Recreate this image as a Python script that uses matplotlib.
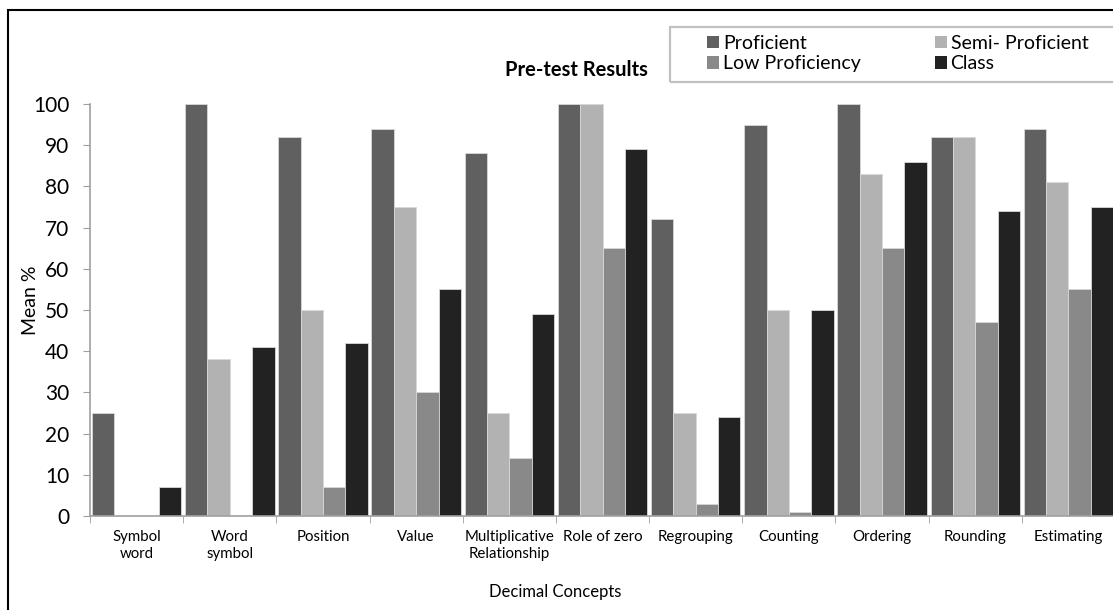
import matplotlib.pyplot as plt
import numpy as np
from matplotlib.patches import Rectangle

# Pre-test mean scores per decimal concept
concepts = ['Symbol\nword', 'Word\nsymbol', 'Position', 'Value', 'Multiplicative\nRelationship',
            'Role of zero', 'Regrouping', 'Counting', 'Ordering', 'Rounding', 'Estimating']
proficient = [25, 100, 92, 94, 88, 100, 72, 95, 100, 92, 94]
semi_proficient = [0, 38, 50, 75, 25, 100, 25, 50, 83, 92, 81]
low_proficiency = [0, 0, 7, 30, 14, 65, 3, 1, 65, 47, 55]
class_mean = [7, 41, 42, 55, 49, 89, 24, 50, 86, 74, 75]

series = [
    ('Proficient', proficient, '#606060'),
    ('Semi- Proficient', semi_proficient, '#b2b2b2'),
    ('Low Proficiency', low_proficiency, '#898989'),
    ('Class', class_mean, '#222222'),
]

plt.rcParams['font.family'] = ['Lato', 'DejaVu Sans']

W, H = 1113, 610
fig = plt.figure(figsize=(W / 100, H / 100), dpi=100)
ax = fig.add_axes([90 / W, (H - 516) / H, (1115 - 90) / W, (516 - 104) / H])

x = np.arange(len(concepts))
bw = 0.24
bars = []
for i, (name, vals, col) in enumerate(series):
    b = ax.bar(x + (i - 1.5) * bw, vals, bw, color=col, edgecolor='#d8d8d8',
               linewidth=0.6, label=name)
    bars.append(b)

ax.set_xlim(-0.5, len(concepts) - 0.5)
ax.set_ylim(0, 100)
ax.set_yticks(range(0, 101, 10))
ax.tick_params(axis='y', labelsize=15, length=5, color='#a0a0a0', pad=10)

ax.set_xticks(x)
ax.set_xticklabels(concepts, fontsize=10.8, linespacing=1.25)
ax.tick_params(axis='x', length=0, pad=10)
ax.set_xticks(np.arange(len(concepts) + 1) - 0.5, minor=True)
ax.tick_params(axis='x', which='minor', length=5, color='#a0a0a0')

for side in ('top', 'right'):
    ax.spines[side].set_visible(False)
for side in ('left', 'bottom'):
    ax.spines[side].set_color('#a0a0a0')
    ax.spines[side].set_linewidth(1.2)

fig.text(30 / W, 1 - 300 / H, 'Mean %', rotation=90, ha='center', va='center', fontsize=14)
fig.text(555 / W, 1 - 592 / H, 'Decimal Concepts', ha='center', va='center', fontsize=12)
fig.text(576 / W, 1 - 70 / H, 'Pre-test Results', ha='center', va='center',
         fontsize=14.5, fontweight='bold')

# legend box, then entries; order fills columns: Proficient/Low, then Semi/Class
fig.patches.append(Rectangle((670 / W, 1 - 82 / H), 460 / W, 55 / H, transform=fig.transFigure,
                             fill=False, edgecolor='#c0c0c0', linewidth=1.6))
order = [0, 2, 1, 3]
leg = fig.legend([bars[k] for k in order], [series[k][0] for k in order],
                 loc='upper left', bbox_to_anchor=(707 / W, 1 - 35 / H), ncol=2,
                 fontsize=14, frameon=False, borderaxespad=0, borderpad=0,
                 handlelength=0.62, handleheight=0.62, handletextpad=0.2,
                 columnspacing=3.8, labelspacing=0.16)
for h in leg.legend_handles:
    h.set_edgecolor('none')

fig.patches.append(Rectangle((8 / W, -0.1), 1.2, 1.1 - 10 / H, transform=fig.transFigure,
                             fill=False, edgecolor='black', linewidth=1.5))

fig.savefig('out.png', dpi=100)
